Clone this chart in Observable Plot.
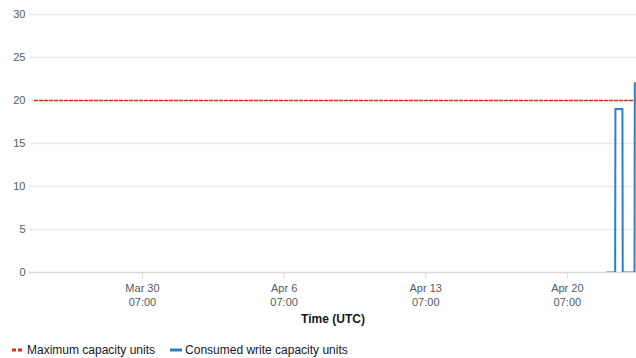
<!DOCTYPE html>
<html>
<head>
<meta charset="utf-8">
<script src="https://cdn.jsdelivr.net/npm/d3@7"></script>
<script src="https://cdn.jsdelivr.net/npm/@observablehq/plot@0.6"></script>
<style>
  html, body { margin: 0; padding: 0; background: #fff; }
  body { width: 636px; height: 358px; overflow: hidden; font-family: "Liberation Sans", Arial, sans-serif; }
  #legend { display: flex; align-items: center; margin-top: 12px; height: 16px; font-size: 12px; color: #16191f; }
  .item { display: flex; align-items: center; }
  .item svg { margin-right: 3px; }
</style>
</head>
<body>
<div id="chart"></div>
<div id="legend"></div>
<script>
// ---- data ----
const xDomain = ["2023-03-24T17:00Z", "2023-04-23T17:00Z"];
const xTicks = ["2023-03-30T07:00Z", "2023-04-06T07:00Z", "2023-04-13T07:00Z", "2023-04-20T07:00Z"];
const yTicks = [0, 5, 10, 15, 20, 25, 30];

const maxTimes = ["2023-03-24T23:00Z", "2023-04-23T17:00Z"];
const maxValues = [20, 20];

const consumedTimes = [
  "2023-04-22T06:00Z", "2023-04-22T15:40Z", "2023-04-22T16:00Z", "2023-04-23T00:20Z",
  "2023-04-23T00:40Z", "2023-04-23T14:40Z", "2023-04-23T15:00Z", "2023-04-23T17:00Z"
];
const consumedValues = [0, 0, 19, 19, 0, 0, 22, 22];

const seriesNames = ["Maximum capacity units", "Consumed write capacity units"];
const seriesColors = ["#d13212", "#2f80c3"];

// ---- build ----
const maxData = maxTimes.map((t, i) => ({t: new Date(t), v: maxValues[i]}));
const consumedData = consumedTimes.map((t, i) => ({t: new Date(t), v: consumedValues[i]}));
const fmt = d3.utcFormat("%b %-d\n%H:%M");

const chart = Plot.plot({
  width: 636,
  height: 330,
  marginTop: 14,
  marginLeft: 29,
  marginRight: 0,
  marginBottom: 58,
  style: {fontFamily: "Liberation Sans, Arial, sans-serif", fontSize: "11px", color: "#545b64", background: "#fff"},
  x: {type: "utc", domain: xDomain.map(d => new Date(d))},
  y: {domain: [0, 30]},
  marks: [
    Plot.ruleY(yTicks.filter(d => d > 0), {stroke: "#e9ebed", strokeWidth: 1.5}),
    Plot.ruleY([0], {stroke: "#d5dbdb", strokeWidth: 1.5}),
    Plot.axisY({ticks: yTicks, tickSize: 0, tickPadding: 4, label: null, fill: "#545b64", fontSize: 11}),
    Plot.axisX({
      ticks: xTicks.map(d => new Date(d)),
      tickFormat: fmt,
      tickSize: 6,
      tickPadding: 3,
      stroke: "#d5dbdb",
      fill: "#545b64",
      lineHeight: 1.3,
      label: null
    }),
    Plot.text(["Time (UTC)"], {frameAnchor: "bottom", dy: 50, fontWeight: "bold", fontSize: 12, fill: "#16191f"}),
    Plot.line(maxData, {x: "t", y: "v", stroke: seriesColors[0], strokeWidth: 1.5, strokeDasharray: "3,2", clip: true}),
    Plot.line(consumedData, {x: "t", y: "v", stroke: seriesColors[1], strokeWidth: 2, curve: "linear", clip: true})
  ]
});
document.getElementById("chart").appendChild(chart);

// ---- legend ----
const legend = d3.select("#legend");
const items = [
  {name: seriesNames[0], color: seriesColors[0], dash: "4,2", ml: 12},
  {name: seriesNames[1], color: seriesColors[1], dash: null, ml: 15}
];
items.forEach(it => {
  const item = legend.append("div").attr("class", "item").style("margin-left", it.ml + "px");
  const s = item.append("svg").attr("width", 12).attr("height", 10);
  s.append("line").attr("x1", 0).attr("x2", 12).attr("y1", 5).attr("y2", 5)
    .attr("stroke", it.color).attr("stroke-width", 3)
    .attr("stroke-dasharray", it.dash);
  item.append("span").text(it.name);
});
</script>
</body>
</html>
